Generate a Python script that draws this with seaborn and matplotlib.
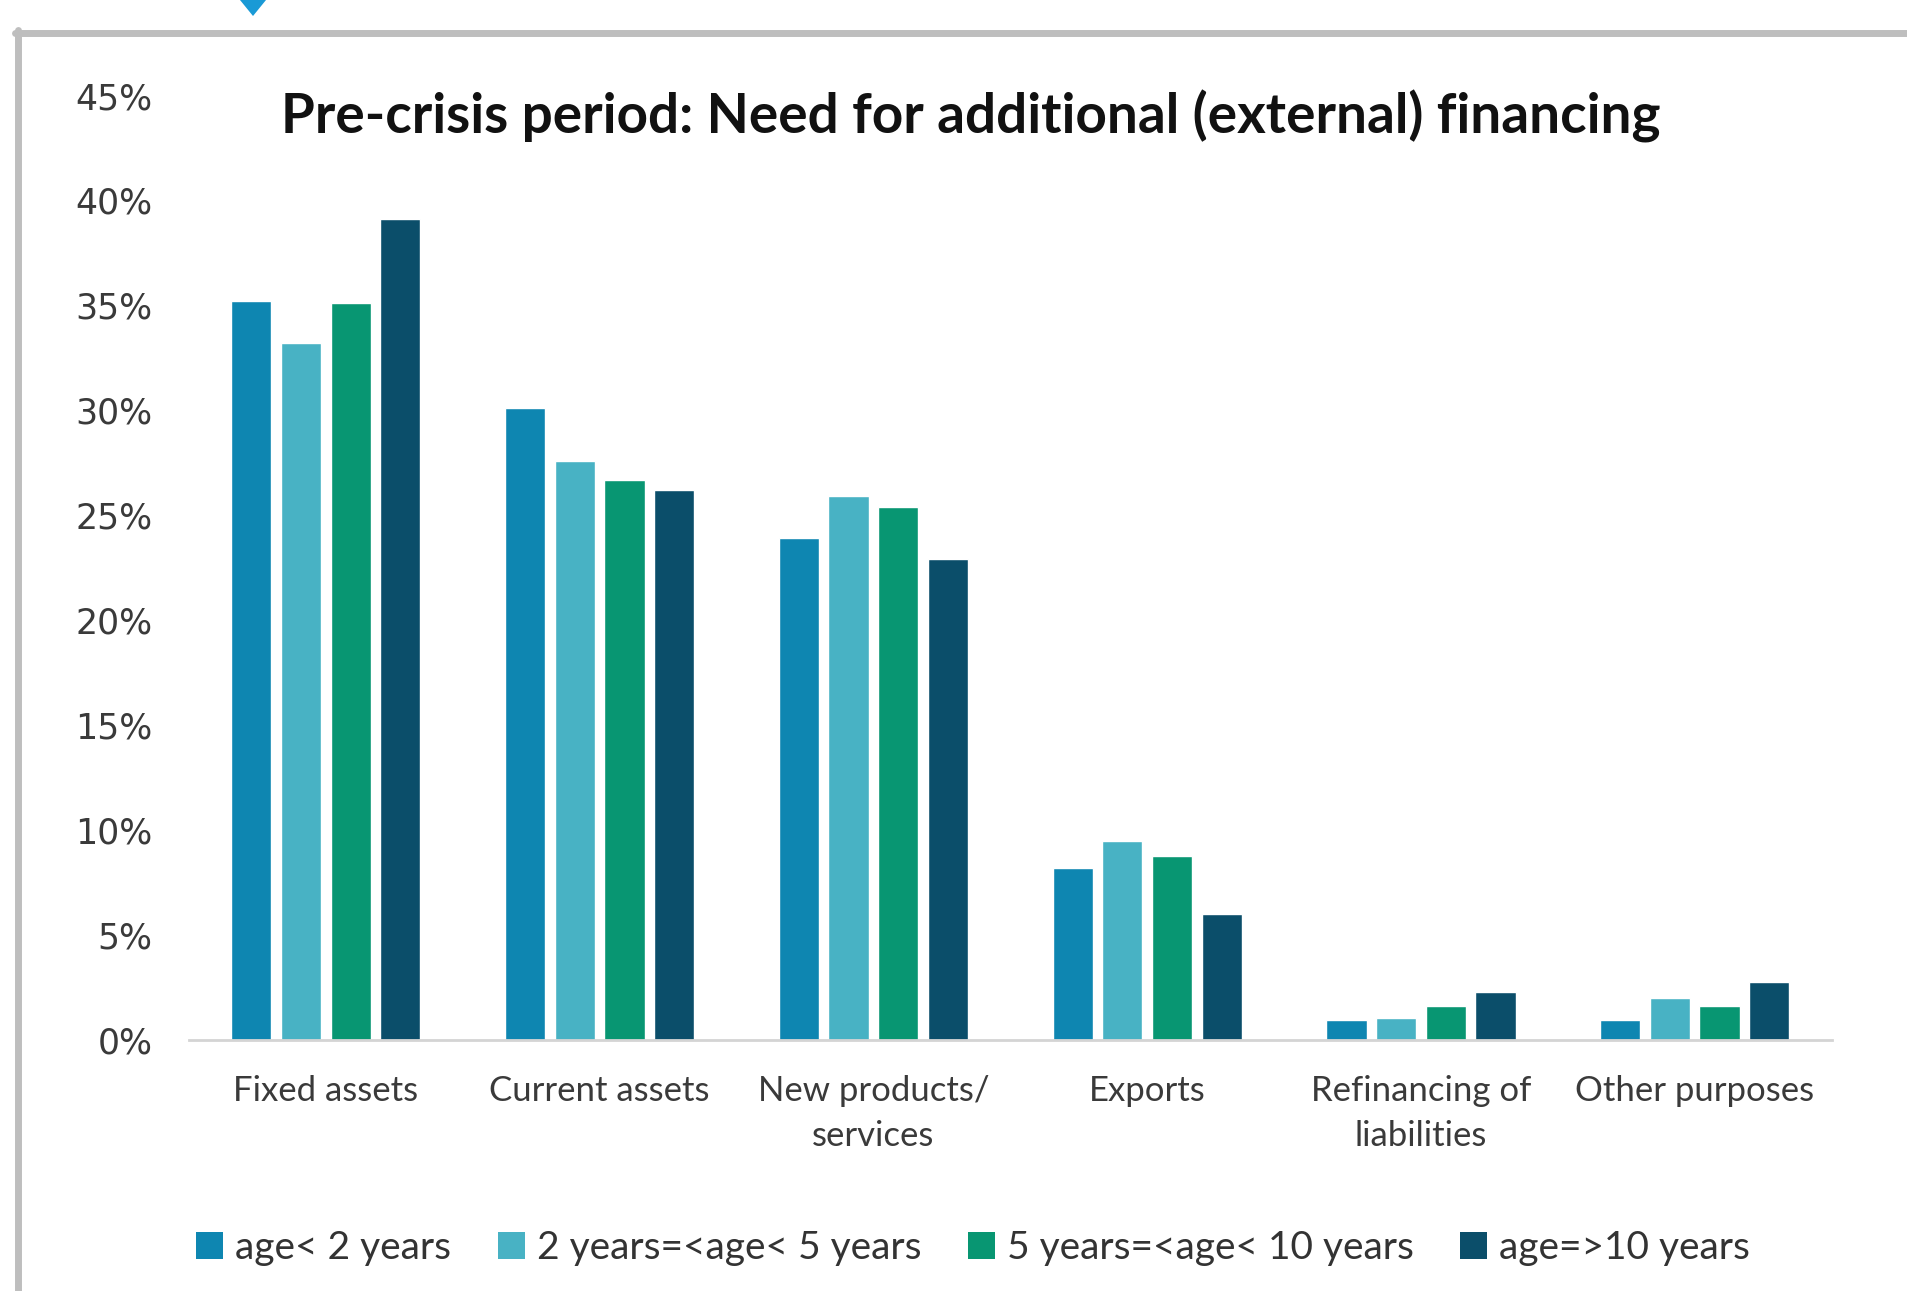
import matplotlib
matplotlib.use("Agg")
import matplotlib.pyplot as plt
from matplotlib.lines import Line2D
from matplotlib.patches import Polygon, Patch
import seaborn as sns
import pandas as pd

# Purposes of the additional financing
categories = ["Fixed assets", "Current assets", "New products/\nservices",
              "Exports", "Refinancing of\nliabilities", "Other purposes"]

# Share of firms per age class (%)
age_lt2 = [35.2, 30.1, 23.9, 8.2, 0.95, 0.95]
age_2_5 = [33.2, 27.6, 25.9, 9.5, 1.05, 2.0]
age_5_10 = [35.1, 26.7, 25.4, 8.75, 1.6, 1.6]
age_ge10 = [39.1, 26.2, 22.9, 6.0, 2.3, 2.75]

series_names = ["age< 2 years", "2 years=<age< 5 years",
                "5 years=<age< 10 years", "age=>10 years"]
colors = ["#0e86b1", "#48b2c4", "#089672", "#0b4e6a"]

yticks = [0, 5, 10, 15, 20, 25, 30, 35, 40, 45]
ytick_labels = [f"{v}%" for v in yticks]

rows = []
for name, vals in zip(series_names, [age_lt2, age_2_5, age_5_10, age_ge10]):
    for cat, v in zip(categories, vals):
        rows.append({"purpose": cat, "age": name, "share": v})
df = pd.DataFrame(rows)

sns.set_theme(style="white")
plt.rcParams["font.family"] = ["Lato", "DejaVu Sans"]

fig = plt.figure(figsize=(19.08, 12.91), dpi=100)
ax = fig.add_axes([0.099, 0.1944, 0.861, 0.7316])

sns.barplot(data=df, x="purpose", y="share", hue="age", order=categories,
            hue_order=series_names, palette=colors, width=0.725, gap=0.19,
            saturation=1, ax=ax, legend=False)

ax.set_xlim(-0.5, len(categories) - 0.5)
ax.set_ylim(0, 45)
ax.set_yticks(yticks)
ax.set_yticklabels(ytick_labels, fontsize=25, color="#3a3a3a",
                   family=["DejaVu Sans"])
ax.tick_params(axis="y", length=0, pad=26)
ax.tick_params(axis="x", length=0, pad=25)
for lbl in ax.get_xticklabels():
    lbl.set_fontsize(25)
    lbl.set_color("#3a3a3a")
    lbl.set_linespacing(1.52)
    lbl.set_verticalalignment("top")
ax.set_xlabel("")
ax.set_ylabel("")
for side in ["top", "right", "left"]:
    ax.spines[side].set_visible(False)
ax.spines["bottom"].set_color("#d4d4d4")
ax.spines["bottom"].set_linewidth(2)

fig.text(0.509, 0.91, "Pre-crisis period: Need for additional (external) financing",
         ha="center", va="center", fontsize=39.5, fontweight="bold", color="#111111")

handles = [Patch(facecolor=c, edgecolor="none") for c in colors]
fig.legend(handles, series_names, loc="center", bbox_to_anchor=(0.51, 0.033),
           ncol=4, frameon=False, fontsize=28, handlelength=0.7,
           handleheight=0.7, handletextpad=0.3, columnspacing=1.2,
           labelcolor="#333333")

# Window frame around the chart panel
fig.add_artist(Line2D([15 / 1908, 1.0], [1 - 33 / 1291, 1 - 33 / 1291],
                      transform=fig.transFigure, color="#bebebe", lw=5))
fig.add_artist(Line2D([18 / 1908, 18 / 1908], [0, 1 - 30 / 1291],
                      transform=fig.transFigure, color="#bebebe", lw=5))
fig.add_artist(Polygon([[240 / 1908, 1.0], [266 / 1908, 1.0], [253 / 1908, 1 - 16 / 1291]],
                       closed=True, transform=fig.transFigure,
                       facecolor="#1a9ad6", edgecolor="none"))

fig.savefig("out.png", dpi=100, facecolor="white")
